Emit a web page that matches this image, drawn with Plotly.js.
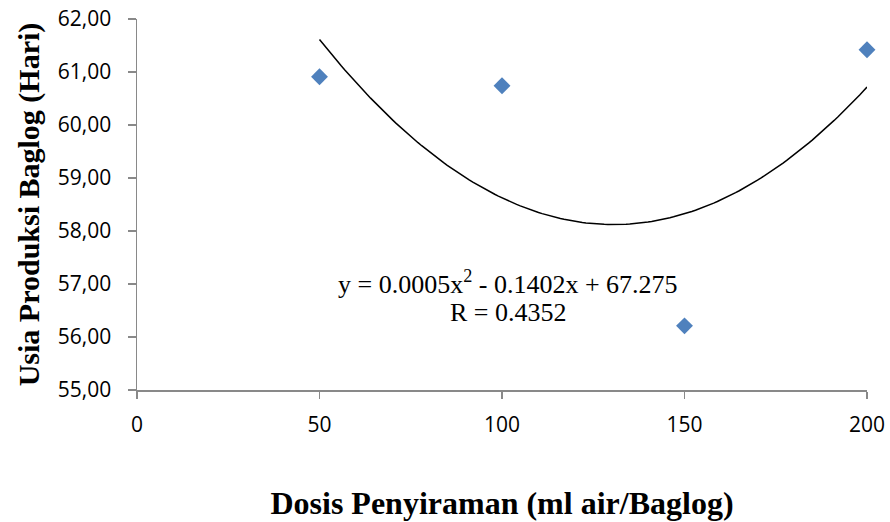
<!DOCTYPE html>
<html><head><meta charset="utf-8">
<script src="https://cdn.plot.ly/plotly-3.0.1.min.js"></script>
<style>html,body{margin:0;padding:0;background:#fff}#chart{width:890px;height:522px}</style>
</head><body><div id="chart"></div>
<script>
var doses = [50, 100, 150, 200];
var ages = [60.91, 60.74, 56.21, 61.42];
var yTicks = [55, 56, 57, 58, 59, 60, 61, 62];
var xTicks = [0, 50, 100, 150, 200];
var equationText = 'y = 0.0005x<sup>2</sup> - 0.1402x + 67.275';
var rText = 'R = 0.4352';

// least-squares quadratic fit (as the chart's trendline)
function polyfit2(xs, ys) {
  var n = xs.length, S = [0,0,0,0,0], T = [0,0,0];
  for (var i = 0; i < n; i++) {
    var p = 1;
    for (var k = 0; k < 5; k++) { S[k] += p; if (k < 3) T[k] += p * ys[i]; p *= xs[i]; }
  }
  var A = [[S[0],S[1],S[2],T[0]],[S[1],S[2],S[3],T[1]],[S[2],S[3],S[4],T[2]]];
  for (var c = 0; c < 3; c++) {
    for (var r = c + 1; r < 3; r++) {
      var f = A[r][c] / A[c][c];
      for (var j = c; j < 4; j++) A[r][j] -= f * A[c][j];
    }
  }
  var sol = [0,0,0];
  for (var r2 = 2; r2 >= 0; r2--) {
    var s = A[r2][3];
    for (var j2 = r2 + 1; j2 < 3; j2++) s -= A[r2][j2] * sol[j2];
    sol[r2] = s / A[r2][r2];
  }
  return sol;
}
var coef = polyfit2(doses, ages);
var fx = [], fy = [];
for (var x = doses[0]; x <= doses[doses.length-1] + 1e-9; x += 1) {
  fx.push(x); fy.push(coef[0] + coef[1]*x + coef[2]*x*x);
}

var traces = [
  {x: fx, y: fy, mode: 'lines', line: {color: '#000000', width: 1.5}, hoverinfo: 'skip', showlegend: false, cliponaxis: false},
  {x: doses, y: ages, mode: 'markers', marker: {symbol: 'diamond', size: 13, color: '#4F81BD'}, showlegend: false, cliponaxis: false}
];

var serif = 'Liberation Serif, Times New Roman, serif';
var sans = 'Open Sans, Liberation Sans, sans-serif';
var layout = {
  width: 890, height: 522,
  margin: {l: 137, r: 23, t: 19, b: 132},
  paper_bgcolor: '#ffffff', plot_bgcolor: '#ffffff',
  separators: ',.',
  showlegend: false,
  xaxis: {
    range: [0, 200], tickvals: xTicks, ticktext: xTicks.map(String),
    showgrid: false, zeroline: false, showline: true, linecolor: '#898989', linewidth: 1.5,
    ticks: 'outside', ticklen: 7, tickcolor: '#898989', tickwidth: 1.5,
    ticklabelstandoff: 8,
    tickfont: {family: sans, size: 21, color: '#000'},
    title: {text: '<b>Dosis Penyiraman (ml air/Baglog)</b>', font: {family: serif, size: 32, color: '#000'}, standoff: 55}
  },
  yaxis: {
    range: [55, 62], tickvals: yTicks, tickformat: '.2f',
    showgrid: false, zeroline: false, showline: true, linecolor: '#898989', linewidth: 1.5,
    ticks: 'outside', ticklen: 8, tickcolor: '#898989', tickwidth: 1.5,
    ticklabelstandoff: 12,
    tickfont: {family: sans, size: 21, color: '#000'},
    title: {text: '<b>Usia Produksi Baglog (Hari)</b>', font: {family: serif, size: 30, color: '#000'}, standoff: 9}
  },
  annotations: [
    {xref: 'paper', yref: 'paper', x: (508-137)/730, y: (390-282)/371, text: equationText, showarrow: false,
     font: {family: serif, size: 26, color: '#000'}, xanchor: 'center', yanchor: 'middle'},
    {xref: 'paper', yref: 'paper', x: (508-137)/730, y: (390-312)/371, text: rText, showarrow: false,
     font: {family: serif, size: 26, color: '#000'}, xanchor: 'center', yanchor: 'middle'}
  ]
};
Plotly.newPlot('chart', traces, layout, {displayModeBar: false, staticPlot: true});
</script></body></html>
